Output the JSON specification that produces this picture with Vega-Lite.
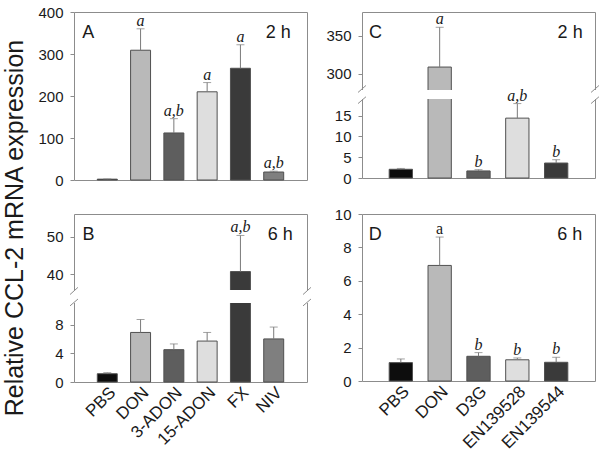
{
  "$schema": "https://vega.github.io/schema/vega-lite/v6.json",
  "padding": {"left": 3, "top": 4, "right": 4, "bottom": 0},
  "background": "white",
  "title": {"text": "Relative CCL-2 mRNA expression", "orient": "left", "anchor": "middle", "font": "Liberation Sans", "fontSize": 25, "fontWeight": "normal", "color": "#1a1a1a", "offset": 9},
  "config": {
    "view": {"stroke": "#8c8c8c", "strokeWidth": 1},
    "axis": {"labelFont": "Liberation Sans", "labelFontSize": 15, "labelColor": "#1a1a1a", "grid": false, "domain": false, "tickColor": "#8c8c8c", "tickSize": 4, "labelPadding": 7, "labelFlush": false, "labelOverlap": false},
    "text": {"font": "Liberation Sans", "color": "#1a1a1a"}
  },
  "datasets": {
    "bars": [
      {"panel": "A", "cat": "PBS", "val": 2, "err": 2.5, "sig": ""},
      {"panel": "A", "cat": "DON", "val": 309, "err": 360, "sig": "a"},
      {"panel": "A", "cat": "3-ADON", "val": 112, "err": 146, "sig": "a,b"},
      {"panel": "A", "cat": "15-ADON", "val": 210, "err": 232, "sig": "a"},
      {"panel": "A", "cat": "FX", "val": 266, "err": 322, "sig": "a"},
      {"panel": "A", "cat": "NIV", "val": 19, "err": 21, "sig": "a,b"},
      {"panel": "C", "cat": "PBS", "val": 2.1, "err": 2.3, "sig": ""},
      {"panel": "C", "cat": "DON", "val": 309, "err": 361, "sig": "a"},
      {"panel": "C", "cat": "D3G", "val": 1.7, "err": 2.0, "sig": "b"},
      {"panel": "C", "cat": "EN139528", "val": 14.4, "err": 17.9, "sig": "a,b"},
      {"panel": "C", "cat": "EN139544", "val": 3.6, "err": 4.4, "sig": "b"},
      {"panel": "B", "cat": "PBS", "val": 1.15, "err": 1.3, "sig": ""},
      {"panel": "B", "cat": "DON", "val": 6.9, "err": 8.7, "sig": ""},
      {"panel": "B", "cat": "3-ADON", "val": 4.5, "err": 5.3, "sig": ""},
      {"panel": "B", "cat": "15-ADON", "val": 5.7, "err": 6.9, "sig": ""},
      {"panel": "B", "cat": "FX", "val": 40.7, "err": 50.3, "sig": "a,b"},
      {"panel": "B", "cat": "NIV", "val": 6.0, "err": 7.65, "sig": ""},
      {"panel": "D", "cat": "PBS", "val": 1.1, "err": 1.32, "sig": ""},
      {"panel": "D", "cat": "DON", "val": 6.92, "err": 8.62, "sig": "a"},
      {"panel": "D", "cat": "D3G", "val": 1.48, "err": 1.7, "sig": "b"},
      {"panel": "D", "cat": "EN139528", "val": 1.27, "err": 1.38, "sig": "b"},
      {"panel": "D", "cat": "EN139544", "val": 1.12, "err": 1.42, "sig": "b"}
    ],
    "tags": [
      {"panel": "A", "tag": "A", "time": "2 h"},
      {"panel": "C", "tag": "C", "time": "2 h"},
      {"panel": "B", "tag": "B", "time": "6 h"},
      {"panel": "D", "tag": "D", "time": "6 h"}
    ]
  },
  "columns": 2,
  "spacing": {"row": 34, "column": 55},
  "bounds": "flush",
  "concat": [
    {
      "width": 233, "height": 168,
      "layer": [
        {"data": {"name": "bars"}, "transform": [{"filter": "datum.panel === 'A'"}],
         "mark": {"type": "bar", "stroke": "#505050", "strokeWidth": 1},
         "encoding": {
           "x": {"field": "cat", "type": "nominal", "scale": {"domain": ["PBS", "DON", "3-ADON", "15-ADON", "FX", "NIV"], "paddingInner": 0.4, "paddingOuter": 0.7}, "axis": null},
           "y": {"field": "val", "type": "quantitative", "scale": {"domain": [0, 400], "nice": false, "zero": false}, "axis": {"values": [0, 100, 200, 300, 400], "title": null, "labelOverlap": false}},
           "color": {"field": "cat", "type": "nominal", "scale": {"domain": ["PBS", "DON", "3-ADON", "15-ADON", "FX", "NIV", "D3G", "EN139528", "EN139544"], "range": ["#0d0d0d", "#b9b9b9", "#5e5e5e", "#dedede", "#3a3a3a", "#7f7f7f", "#5e5e5e", "#dedede", "#3a3a3a"]}, "legend": null}
         }},
        {"data": {"name": "bars"}, "transform": [{"filter": "datum.panel === 'A'"}],
         "encoding": {"x": {"field": "cat", "type": "nominal"}},
         "layer": [
           {"mark": {"type": "rule", "color": "#7a7a7a"},
            "encoding": {"y": {"field": "val", "type": "quantitative", "axis": {"values": [0, 100, 200, 300, 400], "title": null, "labelOverlap": false}}, "y2": {"field": "err"}}},
           {"mark": {"type": "tick", "color": "#7a7a7a", "size": 8, "thickness": 1},
            "encoding": {"y": {"field": "err", "type": "quantitative", "axis": {"values": [0, 100, 200, 300, 400], "title": null, "labelOverlap": false}}}},
           {"mark": {"type": "text", "font": "Liberation Serif", "fontStyle": "italic", "fontSize": 16, "baseline": "alphabetic", "dy": -3},
            "encoding": {"y": {"field": "err", "type": "quantitative", "axis": {"values": [0, 100, 200, 300, 400], "title": null, "labelOverlap": false}}, "text": {"field": "sig"}}}
         ]},
        {"data": {"name": "tags"}, "transform": [{"filter": "datum.panel === 'A'"}],
         "layer": [
           {"mark": {"type": "text", "align": "left", "baseline": "middle", "fontSize": 18, "dx": -25},
            "encoding": {"x": {"datum": "PBS", "type": "nominal"}, "y": {"datum": 350, "type": "quantitative", "axis": {"values": [0, 100, 200, 300, 400], "title": null, "labelOverlap": false}}, "text": {"field": "tag"}}},
           {"mark": {"type": "text", "align": "right", "baseline": "middle", "fontSize": 18, "dx": 17},
            "encoding": {"x": {"datum": "NIV", "type": "nominal"}, "y": {"datum": 350, "type": "quantitative", "axis": {"values": [0, 100, 200, 300, 400], "title": null, "labelOverlap": false}}, "text": {"field": "time"}}}
         ]}
      ]
    },
    {
      "width": 233, "height": 166,
      "resolve": {"scale": {"x": "independent"}},
      "layer": [
        {"data": {"name": "bars"}, "transform": [{"filter": "datum.panel === 'C'"}],
         "mark": {"type": "bar", "stroke": "#505050", "strokeWidth": 1},
         "encoding": {
           "x": {"field": "cat", "type": "nominal", "scale": {"domain": ["PBS", "DON", "D3G", "EN139528", "EN139544"], "paddingInner": 0.4, "paddingOuter": 0.7}, "axis": null},
           "y": {"field": "val", "type": "quantitative", "scale": {"domain": [0, 19, 279, 381], "range": [166, 87, 78, 0], "nice": false, "zero": false}, "axis": {"values": [0, 5, 10, 15, 300, 350], "title": null, "labelOverlap": false}},
           "color": {"field": "cat", "type": "nominal", "scale": {"domain": ["PBS", "DON", "3-ADON", "15-ADON", "FX", "NIV", "D3G", "EN139528", "EN139544"], "range": ["#0d0d0d", "#b9b9b9", "#5e5e5e", "#dedede", "#3a3a3a", "#7f7f7f", "#5e5e5e", "#dedede", "#3a3a3a"]}, "legend": null}
         }},
        {"data": {"values": [{"k": 1}]},
         "layer": [
           {"mark": {"type": "rect", "color": "white"},
            "encoding": {"x": {"datum": -0.012, "type": "quantitative", "scale": {"domain": [0, 1], "nice": false, "zero": false}, "axis": null}, "x2": {"datum": 1.012}, "y": {"datum": 19, "type": "quantitative", "axis": {"values": [0, 5, 10, 15, 300, 350], "title": null, "labelOverlap": false}}, "y2": {"datum": 279}}},
           {"mark": {"type": "rule", "color": "#8c8c8c"},
            "encoding": {"x": {"datum": -0.017, "type": "quantitative"}, "x2": {"datum": 0.017}, "y": {"datum": 17.9, "type": "quantitative", "axis": {"values": [0, 5, 10, 15, 300, 350], "title": null, "labelOverlap": false}}, "y2": {"datum": 83.3}}},
           {"mark": {"type": "rule", "color": "#8c8c8c"},
            "encoding": {"x": {"datum": -0.017, "type": "quantitative"}, "x2": {"datum": 0.017}, "y": {"datum": 209, "type": "quantitative", "axis": {"values": [0, 5, 10, 15, 300, 350], "title": null, "labelOverlap": false}}, "y2": {"datum": 284.9}}},
           {"mark": {"type": "rule", "color": "#8c8c8c"},
            "encoding": {"x": {"datum": 0.983, "type": "quantitative"}, "x2": {"datum": 1.017}, "y": {"datum": 17.9, "type": "quantitative", "axis": {"values": [0, 5, 10, 15, 300, 350], "title": null, "labelOverlap": false}}, "y2": {"datum": 83.3}}},
           {"mark": {"type": "rule", "color": "#8c8c8c"},
            "encoding": {"x": {"datum": 0.983, "type": "quantitative"}, "x2": {"datum": 1.017}, "y": {"datum": 209, "type": "quantitative", "axis": {"values": [0, 5, 10, 15, 300, 350], "title": null, "labelOverlap": false}}, "y2": {"datum": 284.9}}},
           {"data": {"name": "tags"}, "transform": [{"filter": "datum.panel === 'C'"}],
            "mark": {"type": "text", "align": "left", "baseline": "middle", "fontSize": 18},
            "encoding": {"x": {"datum": 0.03, "type": "quantitative"}, "y": {"datum": 353, "type": "quantitative", "axis": {"values": [0, 5, 10, 15, 300, 350], "title": null, "labelOverlap": false}}, "text": {"field": "tag"}}},
           {"data": {"name": "tags"}, "transform": [{"filter": "datum.panel === 'C'"}],
            "mark": {"type": "text", "align": "right", "baseline": "middle", "fontSize": 18},
            "encoding": {"x": {"datum": 0.947, "type": "quantitative"}, "y": {"datum": 353, "type": "quantitative", "axis": {"values": [0, 5, 10, 15, 300, 350], "title": null, "labelOverlap": false}}, "text": {"field": "time"}}}
         ]},
        {"data": {"name": "bars"}, "transform": [{"filter": "datum.panel === 'C'"}],
         "encoding": {"x": {"field": "cat", "type": "nominal", "scale": {"domain": ["PBS", "DON", "D3G", "EN139528", "EN139544"], "paddingInner": 0.4, "paddingOuter": 0.7}, "axis": null}},
         "layer": [
           {"mark": {"type": "rule", "color": "#7a7a7a"},
            "encoding": {"y": {"field": "val", "type": "quantitative", "axis": {"values": [0, 5, 10, 15, 300, 350], "title": null, "labelOverlap": false}}, "y2": {"field": "err"}}},
           {"mark": {"type": "tick", "color": "#7a7a7a", "size": 8, "thickness": 1},
            "encoding": {"y": {"field": "err", "type": "quantitative", "axis": {"values": [0, 5, 10, 15, 300, 350], "title": null, "labelOverlap": false}}}},
           {"mark": {"type": "text", "font": "Liberation Serif", "fontStyle": "italic", "fontSize": 16, "baseline": "alphabetic", "dy": -3},
            "encoding": {"y": {"field": "err", "type": "quantitative", "axis": {"values": [0, 5, 10, 15, 300, 350], "title": null, "labelOverlap": false}}, "text": {"field": "sig"}}}
         ]}
      ]
    },
    {
      "width": 233, "height": 168,
      "resolve": {"scale": {"x": "independent"}},
      "layer": [
        {"data": {"name": "bars"}, "transform": [{"filter": "datum.panel === 'B'"}],
         "mark": {"type": "bar", "stroke": "#505050", "strokeWidth": 1},
         "encoding": {
           "x": {"field": "cat", "type": "nominal", "scale": {"domain": ["PBS", "DON", "3-ADON", "15-ADON", "FX", "NIV"], "paddingInner": 0.4, "paddingOuter": 0.7}, "axis": {"labelAngle": -45, "ticks": false, "labelPadding": 2, "labelFontSize": 17, "title": null}},
           "y": {"field": "val", "type": "quantitative", "scale": {"domain": [0, 11, 35.8, 56], "range": [168, 89, 76, 0], "nice": false, "zero": false}, "axis": {"values": [0, 4, 8, 40, 50], "title": null, "labelOverlap": false}},
           "color": {"field": "cat", "type": "nominal", "scale": {"domain": ["PBS", "DON", "3-ADON", "15-ADON", "FX", "NIV", "D3G", "EN139528", "EN139544"], "range": ["#0d0d0d", "#b9b9b9", "#5e5e5e", "#dedede", "#3a3a3a", "#7f7f7f", "#5e5e5e", "#dedede", "#3a3a3a"]}, "legend": null}
         }},
        {"data": {"values": [{"k": 1}]},
         "layer": [
           {"mark": {"type": "rect", "color": "white"},
            "encoding": {"x": {"datum": -0.012, "type": "quantitative", "scale": {"domain": [0, 1], "nice": false, "zero": false}, "axis": null}, "x2": {"datum": 1.012}, "y": {"datum": 11, "type": "quantitative", "axis": {"values": [0, 4, 8, 40, 50], "title": null, "labelOverlap": false}}, "y2": {"datum": 35.8}}},
           {"mark": {"type": "rule", "color": "#8c8c8c"},
            "encoding": {"x": {"datum": -0.017, "type": "quantitative"}, "x2": {"datum": 0.017}, "y": {"datum": 10.6, "type": "quantitative", "axis": {"values": [0, 4, 8, 40, 50], "title": null, "labelOverlap": false}}, "y2": {"datum": 18.6}}},
           {"mark": {"type": "rule", "color": "#8c8c8c"},
            "encoding": {"x": {"datum": -0.017, "type": "quantitative"}, "x2": {"datum": 0.017}, "y": {"datum": 27.2, "type": "quantitative", "axis": {"values": [0, 4, 8, 40, 50], "title": null, "labelOverlap": false}}, "y2": {"datum": 36.5}}},
           {"mark": {"type": "rule", "color": "#8c8c8c"},
            "encoding": {"x": {"datum": 0.983, "type": "quantitative"}, "x2": {"datum": 1.017}, "y": {"datum": 10.6, "type": "quantitative", "axis": {"values": [0, 4, 8, 40, 50], "title": null, "labelOverlap": false}}, "y2": {"datum": 18.6}}},
           {"mark": {"type": "rule", "color": "#8c8c8c"},
            "encoding": {"x": {"datum": 0.983, "type": "quantitative"}, "x2": {"datum": 1.017}, "y": {"datum": 27.2, "type": "quantitative", "axis": {"values": [0, 4, 8, 40, 50], "title": null, "labelOverlap": false}}, "y2": {"datum": 36.5}}},
           {"data": {"name": "tags"}, "transform": [{"filter": "datum.panel === 'B'"}],
            "mark": {"type": "text", "align": "left", "baseline": "middle", "fontSize": 18},
            "encoding": {"x": {"datum": 0.037, "type": "quantitative"}, "y": {"datum": 50.4, "type": "quantitative", "axis": {"values": [0, 4, 8, 40, 50], "title": null, "labelOverlap": false}}, "text": {"field": "tag"}}},
           {"data": {"name": "tags"}, "transform": [{"filter": "datum.panel === 'B'"}],
            "mark": {"type": "text", "align": "right", "baseline": "middle", "fontSize": 18},
            "encoding": {"x": {"datum": 0.939, "type": "quantitative"}, "y": {"datum": 50.4, "type": "quantitative", "axis": {"values": [0, 4, 8, 40, 50], "title": null, "labelOverlap": false}}, "text": {"field": "time"}}}
         ]},
        {"data": {"name": "bars"}, "transform": [{"filter": "datum.panel === 'B'"}],
         "encoding": {"x": {"field": "cat", "type": "nominal", "scale": {"domain": ["PBS", "DON", "3-ADON", "15-ADON", "FX", "NIV"], "paddingInner": 0.4, "paddingOuter": 0.7}, "axis": null}},
         "layer": [
           {"mark": {"type": "rule", "color": "#7a7a7a"},
            "encoding": {"y": {"field": "val", "type": "quantitative", "axis": {"values": [0, 4, 8, 40, 50], "title": null, "labelOverlap": false}}, "y2": {"field": "err"}}},
           {"mark": {"type": "tick", "color": "#7a7a7a", "size": 8, "thickness": 1},
            "encoding": {"y": {"field": "err", "type": "quantitative", "axis": {"values": [0, 4, 8, 40, 50], "title": null, "labelOverlap": false}}}},
           {"mark": {"type": "text", "font": "Liberation Serif", "fontStyle": "italic", "fontSize": 16, "baseline": "alphabetic", "dy": -3},
            "encoding": {"y": {"field": "err", "type": "quantitative", "axis": {"values": [0, 4, 8, 40, 50], "title": null, "labelOverlap": false}}, "text": {"field": "sig"}}}
         ]}
      ]
    },
    {
      "width": 233, "height": 167,
      "layer": [
        {"data": {"name": "bars"}, "transform": [{"filter": "datum.panel === 'D'"}],
         "mark": {"type": "bar", "stroke": "#505050", "strokeWidth": 1},
         "encoding": {
           "x": {"field": "cat", "type": "nominal", "scale": {"domain": ["PBS", "DON", "D3G", "EN139528", "EN139544"], "paddingInner": 0.4, "paddingOuter": 0.7}, "axis": {"labelAngle": -45, "ticks": false, "labelPadding": 2, "labelFontSize": 17, "title": null}},
           "y": {"field": "val", "type": "quantitative", "scale": {"domain": [0, 10], "nice": false, "zero": false}, "axis": {"values": [0, 2, 4, 6, 8, 10], "title": null, "labelOverlap": false}},
           "color": {"field": "cat", "type": "nominal", "scale": {"domain": ["PBS", "DON", "3-ADON", "15-ADON", "FX", "NIV", "D3G", "EN139528", "EN139544"], "range": ["#0d0d0d", "#b9b9b9", "#5e5e5e", "#dedede", "#3a3a3a", "#7f7f7f", "#5e5e5e", "#dedede", "#3a3a3a"]}, "legend": null}
         }},
        {"data": {"name": "bars"}, "transform": [{"filter": "datum.panel === 'D'"}],
         "encoding": {"x": {"field": "cat", "type": "nominal"}},
         "layer": [
           {"mark": {"type": "rule", "color": "#7a7a7a"},
            "encoding": {"y": {"field": "val", "type": "quantitative", "axis": {"values": [0, 2, 4, 6, 8, 10], "title": null, "labelOverlap": false}}, "y2": {"field": "err"}}},
           {"mark": {"type": "tick", "color": "#7a7a7a", "size": 8, "thickness": 1},
            "encoding": {"y": {"field": "err", "type": "quantitative", "axis": {"values": [0, 2, 4, 6, 8, 10], "title": null, "labelOverlap": false}}}},
           {"transform": [{"filter": "datum.sig !== 'a'"}],
            "mark": {"type": "text", "font": "Liberation Serif", "fontStyle": "italic", "fontSize": 16, "baseline": "alphabetic", "dy": -3},
            "encoding": {"y": {"field": "err", "type": "quantitative", "axis": {"values": [0, 2, 4, 6, 8, 10], "title": null, "labelOverlap": false}}, "text": {"field": "sig"}}},
           {"transform": [{"filter": "datum.sig === 'a'"}],
            "mark": {"type": "text", "font": "Liberation Serif", "fontSize": 16, "baseline": "alphabetic", "dy": -3},
            "encoding": {"y": {"field": "err", "type": "quantitative", "axis": {"values": [0, 2, 4, 6, 8, 10], "title": null, "labelOverlap": false}}, "text": {"field": "sig"}}}
         ]},
        {"data": {"name": "tags"}, "transform": [{"filter": "datum.panel === 'D'"}],
         "layer": [
           {"mark": {"type": "text", "align": "left", "baseline": "middle", "fontSize": 18, "dx": -32},
            "encoding": {"x": {"datum": "PBS", "type": "nominal"}, "y": {"datum": 8.74, "type": "quantitative", "axis": {"values": [0, 2, 4, 6, 8, 10], "title": null, "labelOverlap": false}}, "text": {"field": "tag"}}},
           {"mark": {"type": "text", "align": "right", "baseline": "middle", "fontSize": 18, "dx": 26},
            "encoding": {"x": {"datum": "EN139544", "type": "nominal"}, "y": {"datum": 8.74, "type": "quantitative", "axis": {"values": [0, 2, 4, 6, 8, 10], "title": null, "labelOverlap": false}}, "text": {"field": "time"}}}
         ]}
      ]
    }
  ]
}
